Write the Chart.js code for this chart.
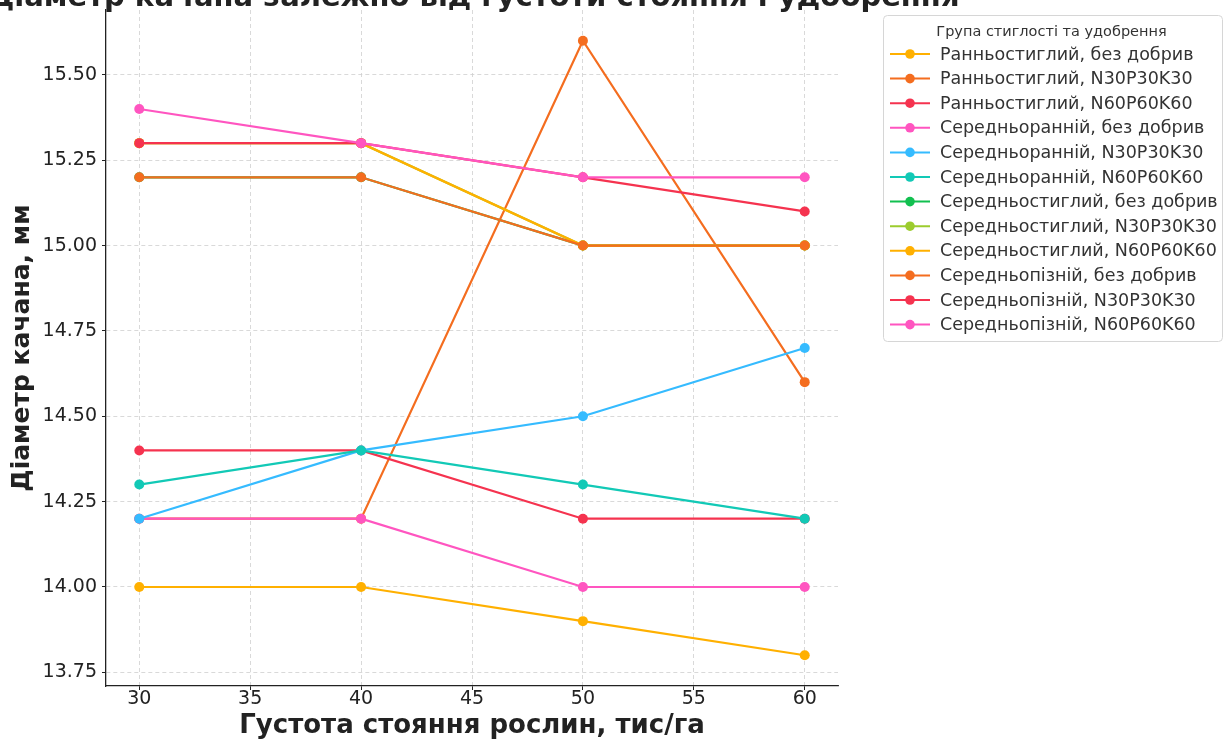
<!DOCTYPE html>
<html lang="uk">
<head>
  <meta charset="UTF-8">
  <title>Діаметр качана залежно від густоти стояння і удобрення</title>
  <script src="https://cdn.jsdelivr.net/npm/chart.js"></script>
  <style>
    html, body {
      margin: 0;
      padding: 0;
      background: #ffffff;
    }
    canvas {
      display: block;
    }
  </style>
</head>
<body>
  <canvas id="headChart" width="1232" height="740"></canvas>

  <script>
    const chartTitle = "Діаметр качана залежно від густоти стояння і удобрення";
    const xTitle = "Густота стояння рослин, тис/га";
    const yTitle = "Діаметр качана, мм";
    const legendTitle = "Група стиглості та удобрення";

    // густота, тис/га
    const densities = [30, 40, 50, 60];

    const groupNames = [
      "Ранньостиглий, без добрив",
      "Ранньостиглий, N30P30K30",
      "Ранньостиглий, N60P60K60",
      "Середньоранній, без добрив",
      "Середньоранній, N30P30K30",
      "Середньоранній, N60P60K60",
      "Середньостиглий, без добрив",
      "Середньостиглий, N30P30K30",
      "Середньостиглий, N60P60K60",
      "Середньопізній, без добрив",
      "Середньопізній, N30P30K30",
      "Середньопізній, N60P60K60"
    ];

    // діаметр качана, мм
    const earlyNone = [14.0, 14.0, 13.9, 13.8];
    const earlyN30 = [14.2, 14.2, 15.6, 14.6];
    const earlyN60 = [14.4, 14.4, 14.2, 14.2];
    const midEarlyNone = [14.2, 14.2, 14.0, 14.0];
    const midEarlyN30 = [14.2, 14.4, 14.5, 14.7];
    const midEarlyN60 = [14.3, 14.4, 14.3, 14.2];
    const midNone = [15.2, 15.2, 15.0, 15.0];
    const midN30 = [15.3, 15.3, 15.0, 15.0];
    const midN60 = [15.3, 15.3, 15.0, 15.0];
    const midLateNone = [15.2, 15.2, 15.0, 15.0];
    const midLateN30 = [15.3, 15.3, 15.2, 15.1];
    const midLateN60 = [15.4, 15.3, 15.2, 15.2];

    const seriesValues = [
      earlyNone, earlyN30, earlyN60,
      midEarlyNone, midEarlyN30, midEarlyN60,
      midNone, midN30, midN60,
      midLateNone, midLateN30, midLateN60
    ];

    const lineColors = [
      "#ffb000", "#f46d1f", "#f5334f", "#ff55c0",
      "#35bbff", "#12c9b6", "#12c050", "#9ccc2e",
      "#ffb000", "#f46d1f", "#f5334f", "#ff55c0"
    ];

    const textColor = "#222222";

    const decorPlugin = {
      id: 'decor',
      afterDraw(chart) {
        const ctx = chart.ctx;
        const area = chart.chartArea;
        ctx.save();
        ctx.fillStyle = textColor;

        // title (top part falls outside the picture, like the original)
        ctx.font = 'bold 29px "DejaVu Sans"';
        ctx.textAlign = 'center';
        ctx.textBaseline = 'alphabetic';
        ctx.fillText(chartTitle, (area.left + area.right) / 2 + 2, 6);

        // axis titles
        ctx.font = 'bold 26px "DejaVu Sans"';
        ctx.textBaseline = 'middle';
        ctx.fillText(xTitle, (area.left + area.right) / 2, 726);
        ctx.font = 'bold 25px "DejaVu Sans"';
        ctx.save();
        ctx.translate(22, (area.top + area.bottom) / 2);
        ctx.rotate(-Math.PI / 2);
        ctx.fillText(yTitle, 0, 0);
        ctx.restore();

        // legend
        const bx = 883, by = 15, bw = 339, bh = 326;
        ctx.beginPath();
        ctx.roundRect(bx + 0.5, by + 0.5, bw, bh, 4);
        ctx.fillStyle = 'rgba(255,255,255,0.85)';
        ctx.fill();
        ctx.strokeStyle = '#d6d6d6';
        ctx.lineWidth = 1;
        ctx.stroke();

        ctx.fillStyle = '#333333';
        ctx.font = '14.5px "DejaVu Sans"';
        ctx.textAlign = 'center';
        ctx.fillText(legendTitle, bx + bw / 2 - 1, 32);

        ctx.font = '17.5px "DejaVu Sans"';
        ctx.textAlign = 'left';
        chart.data.datasets.forEach((ds, i) => {
          const y = 54 + i * 24.6;
          ctx.strokeStyle = ds.borderColor;
          ctx.lineWidth = 2;
          ctx.beginPath();
          ctx.moveTo(890, y);
          ctx.lineTo(930, y);
          ctx.stroke();
          ctx.fillStyle = ds.borderColor;
          ctx.beginPath();
          ctx.arc(910, y, 4.8, 0, Math.PI * 2);
          ctx.fill();
          ctx.fillStyle = '#333333';
          ctx.fillText(ds.label, 940, y + 1);
        });

        ctx.restore();
      }
    };

    function createChart() {
      const ctx = document.getElementById('headChart').getContext('2d');

      const datasets = groupNames.map((name, i) => ({
        label: name,
        data: densities.map((d, j) => ({ x: d, y: seriesValues[i][j] })),
        borderColor: lineColors[i],
        backgroundColor: lineColors[i],
        pointBackgroundColor: lineColors[i],
        pointBorderWidth: 0,
        pointRadius: 5,
        borderWidth: 2.2,
        tension: 0,
        fill: false,
        // later series on top, like the original
        order: groupNames.length - i
      }));

      const gridOpts = {
        color: '#cfcfcf',
        lineWidth: 0.8,
        tickLength: 4,
        tickColor: textColor,
        tickWidth: 1,
        tickBorderDash: []
      };

      new Chart(ctx, {
        type: 'line',
        data: { datasets },
        plugins: [decorPlugin],
        options: {
          responsive: false,
          animation: false,
          devicePixelRatio: 1,
          layout: {
            padding: { left: 0, top: 10, right: 394, bottom: 0 }
          },
          plugins: {
            legend: { display: false },
            tooltip: { enabled: false }
          },
          scales: {
            x: {
              type: 'linear',
              min: 28.5,
              max: 61.5,
              afterFit: s => {
                s.height = 54;
                s.paddingLeft = 0;
                s.paddingRight = 0;
              },
              ticks: {
                stepSize: 5,
                includeBounds: false,
                color: textColor,
                font: { family: 'DejaVu Sans', size: 19, lineHeight: 1 },
                padding: 0
              },
              grid: gridOpts,
              border: { color: textColor, width: 1.3, dash: [4, 3] }
            },
            y: {
              type: 'linear',
              min: 13.71,
              max: 15.69,
              afterFit: s => {
                s.width = 106;
                s.paddingTop = 0;
                s.paddingBottom = 0;
              },
              ticks: {
                stepSize: 0.25,
                includeBounds: false,
                color: textColor,
                font: { family: 'DejaVu Sans', size: 19 },
                padding: 5,
                callback: v => v.toFixed(2)
              },
              grid: gridOpts,
              border: { color: textColor, width: 1.3, dash: [4, 3] }
            }
          }
        }
      });
    }

    createChart();
  </script>
</body>
</html>
